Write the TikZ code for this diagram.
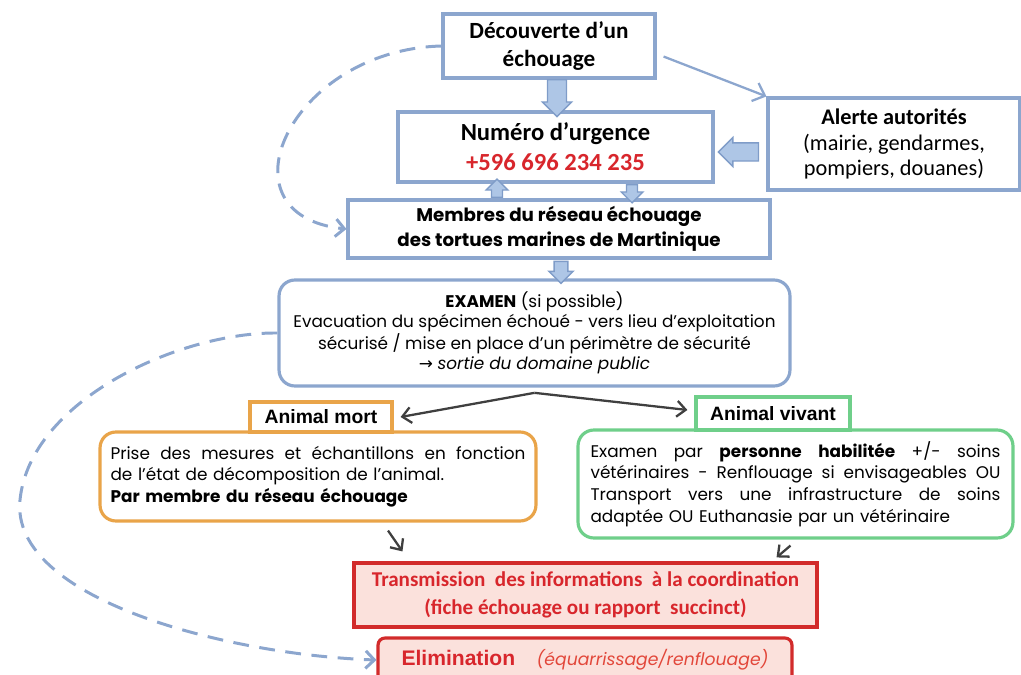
\documentclass[tikz,border=0pt]{standalone}
\usepackage{fontspec}
\setmainfont{Carlito}
\newfontfamily\gothic{Poppins}
\newfontfamily\arialf{Liberation Sans}
\newfontfamily\dejavu{DejaVu Sans}
\usetikzlibrary{shapes.arrows,arrows.meta,calc}
\newcommand{\ligne}[2]{\leavevmode{\spaceskip=0.28em plus 1fil\relax\hbox to #1{#2}}}

\begin{document}
\begin{tikzpicture}[x=0.02cm, y=-0.02cm]
  \definecolor{cadreBleu}{HTML}{8CA6CE}
  \definecolor{flecheBleu}{HTML}{AEC6E6}
  \definecolor{bordFleche}{HTML}{7F9CC8}
  \definecolor{cadreOrange}{HTML}{E9A449}
  \definecolor{cadreVert}{HTML}{6FCF8A}
  \definecolor{cadreRouge}{HTML}{D22B2B}
  \definecolor{fondRouge}{HTML}{FBE1DC}
  \definecolor{texteRouge}{HTML}{D8262C}
  \definecolor{texteOrange}{HTML}{E2473A}
  \definecolor{gris}{HTML}{3F3F3F}
  \tikzstyle{boite}=[draw=cadreBleu, line width=1.8pt, fill=white, align=center, inner sep=2pt]
  \tikzstyle{arrondi}=[boite, rounded corners=9pt]
  \tikzstyle{grosse}=[single arrow, draw=bordFleche, fill=flecheBleu, line width=0.8pt, inner sep=0pt, single arrow head extend=3pt]
  \tikzstyle{pointille}=[cadreBleu, line width=1.7pt, dash pattern=on 9pt off 6pt, -{Straight Barb[length=5pt,width=10pt]}]
  \tikzstyle{lien}=[gris, line width=1.3pt, -{Straight Barb[length=5pt,width=9pt]}]

  \useasboundingbox (0,0) rectangle (1021,675);
  \clip (0,0) rectangle (1021,675);

  % haut du schema
  \node[boite, minimum width=4.24cm, minimum height=1.28cm, font=\fontsize{13.2}{15.5}\selectfont\bfseries] (dec) at (549,46) {Découverte d’un\\échouage};
  \node[boite, minimum width=6.3cm, minimum height=1.4cm, font=\fontsize{14}{17}\selectfont\bfseries] (num) at (555.5,147) {Numéro d’urgence\\{\color{texteRouge}+596 696 234 235}};
  \node[boite, minimum width=5.04cm, minimum height=1.84cm, font=\fontsize{12.7}{14.5}\selectfont] (alerte) at (894,144) {\textbf{Alerte autorités}\\(mairie, gendarmes,\\pompiers, douanes)};
  \node[boite, minimum width=8.44cm, minimum height=1.16cm, font=\gothic\fontsize{10.4}{14}\selectfont\bfseries] (membres) at (559,229) {Membres du réseau échouage\\des tortues marines de Martinique};
  \node[arrondi, minimum width=10.22cm, minimum height=2.12cm, font=\gothic\fontsize{9.6}{11.4}\selectfont] (examen) at (534.5,333) {\textbf{EXAMEN} (si possible)\\Evacuation du spécimen échoué - vers lieu d’exploitation\\sécurisé / mise en place d’un périmètre de sécurité\\{\dejavu →} \textit{sortie du domaine public}};

  % fleches epaisses
  \node[grosse, rotate=-90, minimum height=0.74cm, minimum width=16pt, text height=10pt] (f1) at (557,93.5) {};
  \node[grosse, rotate=180, minimum height=0.8cm, minimum width=16pt, text height=9.5pt] (f2) at (743,152) {};
  \node[grosse, rotate=90, minimum height=0.36cm, minimum width=11pt, text height=5.5pt] (f3) at (497,191) {};
  \node[grosse, rotate=-90, minimum height=0.36cm, minimum width=11pt, text height=5.5pt] (f4) at (632,191) {};
  \node[grosse, rotate=-90, minimum height=0.44cm, minimum width=12.5pt, text height=7pt] (f5) at (561,269) {};

  % mort / vivant
  \node[arrondi, draw=cadreOrange, minimum width=8.72cm, minimum height=1.78cm, text width=8.3cm, align=left, font=\gothic\fontsize{9.6}{12.3}\selectfont] (mort) at (318,476.5) {\ligne{8.3cm}{Prise des mesures et échantillons en fonction}\\de l’état de décomposition de l’animal.\\\textbf{Par membre du réseau échouage}};
  \node[boite, draw=cadreOrange, minimum width=2.84cm, minimum height=0.6cm, font=\arialf\fontsize{11}{13}\selectfont\bfseries] (mortlab) at (321,417) {Animal mort};
  \node[arrondi, draw=cadreVert, minimum width=8.7cm, minimum height=2.16cm, text width=8.2cm, align=left, font=\gothic\fontsize{9.6}{12.3}\selectfont] (viv) at (795.5,484) {\ligne{8.2cm}{Examen par \textbf{personne habilitée} +/- soins}\\\ligne{8.2cm}{vétérinaires - Renflouage si envisageables OU}\\\ligne{8.2cm}{Transport vers une infrastructure de soins}\\adaptée OU Euthanasie par un vétérinaire};
  \node[boite, draw=cadreVert, minimum width=3.08cm, minimum height=0.66cm, font=\arialf\fontsize{11}{13}\selectfont\bfseries] (vivlab) at (773,413.5) {Animal vivant};

  % bas du schema
  \node[boite, draw=cadreRouge, fill=fondRouge, text=texteRouge, minimum width=9.26cm, minimum height=1.28cm, font=\fontsize{12}{16}\selectfont\bfseries] (trans) at (585.5,595) {Transmission \ des informations \ à la coordination\\(fiche échouage ou rapport \ succinct)};
  \node[boite, draw=cadreRouge, fill=fondRouge, text=texteRouge, minimum width=8.28cm, minimum height=0.88cm, rounded corners=4pt] (elim) at (585,660) {{\arialf\fontsize{12}{14}\selectfont\bfseries Elimination}\quad\ {\gothic\fontsize{9.8}{12}\selectfont\itshape\color{texteOrange}(équarrissage/renflouage)}};

  \draw[cadreBleu, line width=1.3pt, -{Straight Barb[length=6pt,width=11pt]}] ([xshift=4pt,yshift=-6pt]dec.east) -- (alerte.north west);
  \draw[pointille] (dec.west) .. controls (290,50) and (215,215) .. (membres.west);
  \draw[pointille] (examen.west) .. controls (180,332) and (30,400) .. (20,500) .. controls (10,600) and (230,655) .. (elim.west);

  \draw[lien] ([yshift=-3pt]examen.south) -- ([xshift=4pt]mortlab.east);
  \draw[lien] ([yshift=-3pt]examen.south) -- ([xshift=-4pt,yshift=2pt]vivlab.west);
  \draw[lien] ($(mort.south)+(70,8)$) -- ($(trans.north west)+(50,-10)$);
  \draw[lien] ($(viv.south)+(-5,6)$) -- ($(trans.north east)+(-42,-4)$);
\end{tikzpicture}
\end{document}
